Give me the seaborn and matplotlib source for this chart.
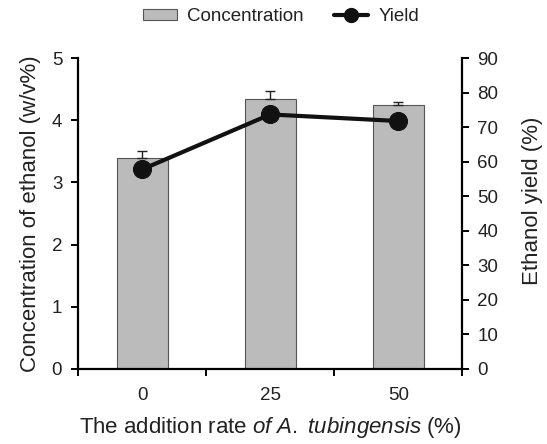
import matplotlib
matplotlib.use("Agg")
import matplotlib.pyplot as plt
import seaborn as sns
import pandas as pd
from matplotlib.lines import Line2D
from matplotlib.patches import Patch

categories = ["0", "25", "50"]
concentration = [3.39, 4.35, 4.24]
conc_err = [0.11, 0.12, 0.06]
yield_pct = [57.8, 73.7, 71.8]

sns.set_theme(style="white")
plt.rcParams['font.family'] = ['Liberation Sans', 'DejaVu Sans']
plt.rcParams['mathtext.fontset'] = 'custom'
plt.rcParams['mathtext.rm'] = 'Liberation Sans'
plt.rcParams['mathtext.it'] = 'Liberation Sans:italic'

fig = plt.figure(figsize=(5.47, 4.44), dpi=100)
ax = fig.add_axes([0.143, 0.169, 0.702, 0.70])

df = pd.DataFrame({"rate": categories, "conc": concentration})
sns.barplot(data=df, x="rate", y="conc", ax=ax, color="#bbbbbb",
            edgecolor="#555555", linewidth=0.8, width=0.4, saturation=1, errorbar=None)
xs = list(range(len(categories)))
ax.errorbar(xs, concentration, yerr=[[0]*3, conc_err], fmt="none",
            ecolor="#222222", elinewidth=1.0, capsize=3.3, capthick=1.0, zorder=3)

ax.set_xlim(-0.5, 2.5)
ax.set_ylim(0, 5)
ax.set_yticks(range(0, 6))
ax.set_xticks(xs)
ax.set_xticklabels(categories)
ax.set_xticks([-0.5, 0.5, 1.5, 2.5], minor=True)
ax.tick_params(axis="x", which="major", length=0, pad=13, labelsize=13.5, labelcolor="#222222")
ax.tick_params(axis="x", which="minor", length=5, width=1.4, color="black", direction="out", bottom=True)
ax.tick_params(axis="y", length=5, width=1.4, color="black", direction="out", labelsize=13.5,
               left=True, labelcolor="#222222", pad=6.5)
for s in ["left", "bottom"]:
    ax.spines[s].set_color("black")
    ax.spines[s].set_linewidth(1.6)
ax.spines["top"].set_visible(False)
ax.spines["right"].set_visible(False)
ax.set_ylabel("Concentration of ethanol (w/v%)", fontsize=16, labelpad=8, color="#222222")
ax.set_xlabel(r"The addition rate $\it{of}$ $\it{A.}$ $\it{tubingensis}$ (%)", fontsize=16,
              labelpad=8, color="#222222")

ax2 = ax.twinx()
sns.lineplot(x=xs, y=yield_pct, ax=ax2, color="#111111", linewidth=3,
             marker="o", markersize=13, markeredgecolor="#111111")
ax2.set_ylim(0, 90)
ax2.set_yticks(range(0, 91, 10))
ax2.tick_params(axis="y", length=5, width=1.4, color="black", direction="out", labelsize=13.5,
                right=True, labelcolor="#222222", pad=6)
ax2.set_ylabel("Ethanol yield (%)", fontsize=16, color="#222222", va="center", ha="center")
ax2.yaxis.set_label_coords(1.182, 0.54)
ax2.spines["right"].set_color("black")
ax2.spines["right"].set_linewidth(1.6)
for s in ["left", "top", "bottom"]:
    ax2.spines[s].set_visible(False)
ax2.set_xlim(-0.5, 2.5)

handles = [Patch(facecolor="#bbbbbb", edgecolor="#555555", linewidth=0.8),
           Line2D([0], [0], color="#111111", lw=3, marker="o", markersize=10)]
fig.legend(handles, ["Concentration", "Yield"], loc="center", bbox_to_anchor=(0.514, 0.962),
           ncol=2, frameon=False, fontsize=13.5, handlelength=1.8, handleheight=0.55,
           columnspacing=1.6, handletextpad=0.55, labelcolor="#222222")

fig.savefig("out.png", dpi=100)
